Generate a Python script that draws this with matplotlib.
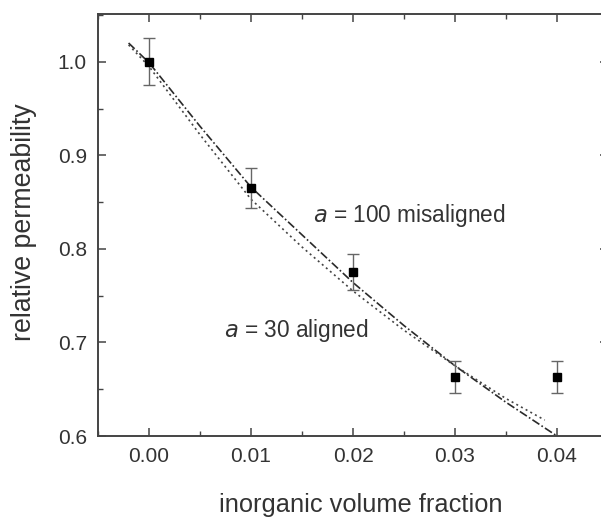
import numpy as np
import matplotlib
matplotlib.use("Agg")
import matplotlib.pyplot as plt
from matplotlib.ticker import MultipleLocator

plt.rcParams['font.family'] = ['Liberation Sans', 'DejaVu Sans']

# --------- Data ----------
vol_frac = [0.00, 0.01, 0.02, 0.03, 0.04]
rel_perm = [1.000, 0.865, 0.775, 0.663, 0.663]
perm_err = [0.025, 0.021, 0.019, 0.017, 0.017]

# a = 100 misaligned (dash-dot)
mis_x = [-0.002, 0.000, 0.005, 0.010, 0.015, 0.020, 0.025, 0.030, 0.035, 0.040]
mis_y = [1.020, 0.999, 0.931, 0.866, 0.815, 0.764, 0.718, 0.675, 0.636, 0.600]

# a = 30 aligned (dotted)
ali_x = [-0.002, 0.000, 0.005, 0.010, 0.015, 0.020, 0.025, 0.030, 0.035, 0.0388]
ali_y = [1.018, 0.995, 0.922, 0.853, 0.802, 0.755, 0.713, 0.675, 0.640, 0.617]

txt = "#333333"
edge = "#444444"

# --------- Figure ----------
fig = plt.figure(figsize=(6.01, 5.21), dpi=100)
ax = fig.add_axes([98/601, 1-436/521, 510/601, 422/521])

ax.plot(mis_x, mis_y, color="#2a2a2a", lw=1.2, ls=(0, (5, 1.5, 1, 1.5)))
ax.plot(ali_x, ali_y, color="#444444", lw=1.2, ls=(0, (1.2, 2)))

ax.errorbar(vol_frac, rel_perm, yerr=perm_err, fmt='s', color="black",
            ms=5.5, ecolor="#666666", elinewidth=1.0, capsize=4, capthick=1.0)

ax.set_xlim(-0.005, 0.045)
ax.set_ylim(0.6, 1.051)
ax.xaxis.set_minor_locator(MultipleLocator(0.005))
ax.yaxis.set_minor_locator(MultipleLocator(0.05))
ax.set_xticks([0.00, 0.01, 0.02, 0.03, 0.04])
ax.set_xticklabels(["0.00", "0.01", "0.02", "0.03", "0.04"])
ax.set_yticks([0.6, 0.7, 0.8, 0.9, 1.0])
ax.set_yticklabels(["0.6", "0.7", "0.8", "0.9", "1.0"])

ax.tick_params(which='both', direction='in', top=True, right=True,
               color=edge, labelcolor=txt, labelsize=15, pad=8)
ax.tick_params(which='major', length=6, width=1.1)
ax.tick_params(which='minor', length=3.5, width=1.0)
for s in ax.spines.values():
    s.set_color(edge)
    s.set_linewidth(1.4)

ax.text(0.00732, 0.7055, r"$\it{a}$ = 30 aligned", fontsize=16.3,
        color=txt, va='baseline', ha='left')
ax.text(0.01605, 0.829, r"$\it{a}$ = 100 misaligned", fontsize=16.3,
        color=txt, va='baseline', ha='left')

fig.text(361/601, 1-505/521, "inorganic volume fraction", fontsize=18.3,
         color=txt, ha='center', va='center')
fig.text(24/601, 1-222/521, "relative permeability", fontsize=19.3,
         color=txt, ha='center', va='center', rotation=90)

fig.savefig("out.png", dpi=100)
